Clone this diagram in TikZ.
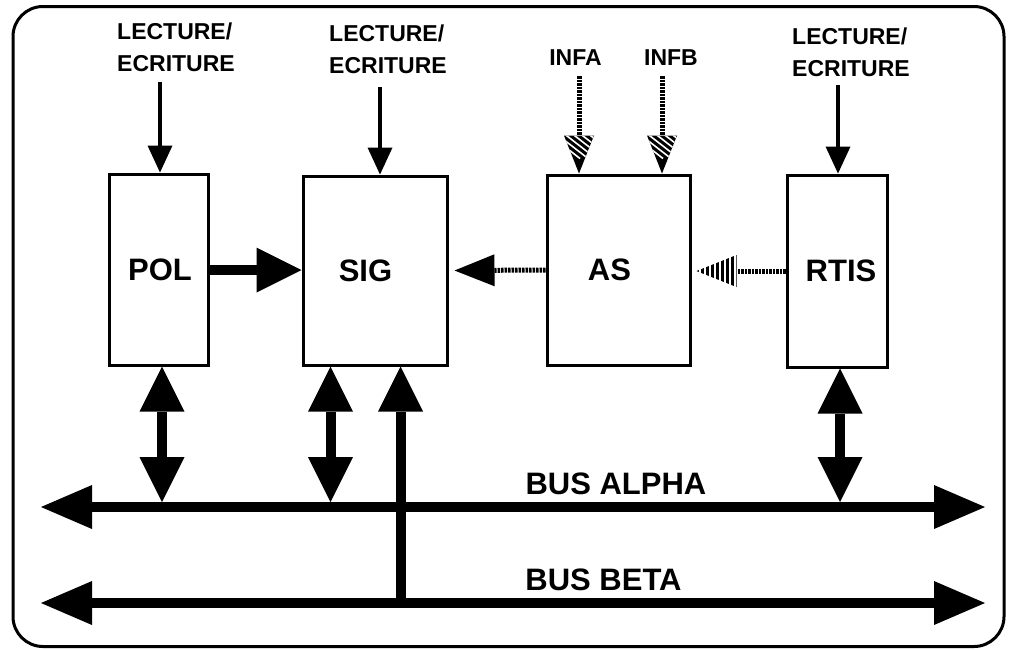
\documentclass[tikz,border=0pt]{standalone}
\usepackage{fontspec}
\setmainfont{Liberation Sans}
\usetikzlibrary{arrows.meta,calc}
\tikzset{
  fathead/.tip={Triangle[length=45pt,width=45pt,line width=0pt]},
  bushead/.tip={Triangle[length=51pt,width=44pt,line width=0pt]},
  thinhead/.tip={Triangle[length=27pt,width=25pt,line width=0pt]},
  beadhead/.tip={Triangle[length=40pt,width=32pt,line width=0pt]},
}
\begin{document}
\begin{tikzpicture}[x=1pt,y=-1pt,
  box/.style={draw, line width=3pt, inner sep=0pt, font=\bfseries\fontsize{31}{36}\selectfont},
  lbl/.style={inner sep=0pt, align=left, anchor=north west, font=\bfseries\fontsize{23}{32}\selectfont},
  smalllbl/.style={inner sep=0pt, font=\bfseries\fontsize{23}{32}\selectfont},
  buslbl/.style={inner sep=0pt, font=\bfseries\fontsize{31}{36}\selectfont},
  thinarrow/.style={line width=3.5pt, -thinhead},
  fat/.style={line width=10pt},
  beaded/.style={line width=5pt, dash pattern=on 2.5pt off 1pt},
]
\useasboundingbox (0,0) rectangle (1011,649);
% frame
\draw[line width=3pt, rounded corners=30pt] (13,6.5) rectangle (1004,646.5);

% boxes
\node[box, minimum width=99pt, minimum height=191pt] (pol) at (158.5,269.5) {\kern3pt POL};
\node[box, minimum width=144pt, minimum height=189pt] (sig) at (375,270.5) {SIG\kern19pt};
\node[box, minimum width=143pt, minimum height=190pt] (as) at (618.5,270) {AS\kern18pt};
\node[box, minimum width=100pt, minimum height=192pt] (rtis) at (837,271) {\kern8pt RTIS};

% top labels
\node[lbl] (lec1) at (117,23) {LECTURE/\\ECRITURE};
\node[lbl] (lec2) at (329,25) {LECTURE/\\ECRITURE};
\node[lbl] (lec3) at (792,28) {LECTURE/\\ECRITURE};
\node[smalllbl] (infa) at (575.5,58) {INFA};
\node[smalllbl] (infb) at (671,58) {INFB};

% thin arrows
\draw[thinarrow] ($(lec1.south -| pol.north)+(1.5,10)$) -- ($(pol.north)+(1.5,0)$);
\draw[thinarrow] ($(lec2.south -| sig.north)+(5,13)$) -- ($(sig.north)+(5,0)$);
\draw[thinarrow] ($(lec3.south -| rtis.north)+(1,8)$) -- ($(rtis.north)+(1,0)$);

% hatched inputs INFA / INFB
\coordinate (infaTip) at ($(as.north)+(-39.5,0)$);
\coordinate (infbTip) at ($(as.north)+(43.5,0)$);
\foreach \t/\l in {infaTip/infa, infbTip/infb}{
  \draw[beaded] ($(\l.south -| \t)+(0,10)$) -- ($(\t)+(0,-38)$);
  \fill (\t) -- ++(-15,-38) -- ++(30,0) -- cycle;
  \begin{scope}
    \clip (\t) -- ++(-15,-38) -- ++(30,0) -- cycle;
    \foreach \k in {-5,...,5}
      \draw[white, line width=1.6pt] ($(\t)+(\k*8-20,-50)$) -- ++(45,35);
  \end{scope}
}

% POL -> SIG
\draw[fat, -fathead] (pol.east |- 0,270) -- (sig.west |- 0,270);

% AS -> SIG (beaded shaft, solid head)
\draw[beaded, -beadhead] (as.west) -- ($(sig.east)+(6,0)$);

% RTIS -> AS (beaded shaft, striped head)
\coordinate (rtTip) at ($(as.east)+(5,1)$);
\draw[beaded] (rtis.west) -- ($(rtTip)+(40,0)$);
\begin{scope}
  \clip (rtTip) -- ++(40,-16) -- ++(0,32) -- cycle;
  \foreach \k in {0,...,8}
    \draw[line width=2.6pt] ($(rtTip)+(\k*5+1,-20)$) -- ++(0,40);
\end{scope}

% buses
\coordinate (alphaL) at (41,507);
\coordinate (alphaR) at (985,507);
\coordinate (betaL) at (41,603);
\coordinate (betaR) at (985,603);
\draw[fat, bushead-bushead] (alphaL) -- (alphaR);
\draw[fat, bushead-bushead] (betaL) -- (betaR);
\node[buslbl] (alpha) at (616,483.5) {BUS ALPHA};
\node[buslbl] (beta) at (603.5,579.5) {BUS BETA};

% module <-> bus alpha
\draw[fat, fathead-fathead] ($(pol.south)+(3.5,0)$) -- ($(pol.south |- alphaL)+(3.5,-5)$);
\draw[fat, fathead-fathead] ($(sig.south west)+(29,0)$) -- ($(sig.south west |- alphaL)+(29,-5)$);
\draw[fat, fathead-fathead] ($(rtis.south)+(3,0)$) -- ($(rtis.south |- alphaL)+(3,-5)$);
% bus beta -> SIG
\draw[fat, -fathead] ($(sig.south west |- betaL)+(99,5)$) -- ($(sig.south west)+(99,0)$);
\end{tikzpicture}
\end{document}
